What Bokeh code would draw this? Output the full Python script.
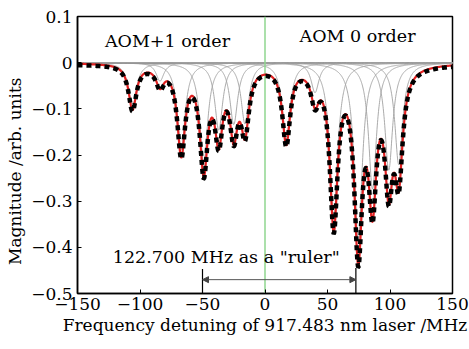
import numpy as np
from bokeh.plotting import figure
from bokeh.models import (Range1d, FixedTicker, CustomJSTickFormatter, Label, Arrow,
                          NormalHead)
from bokeh.embed import file_html
from bokeh.resources import INLINE

# Lorentzian components (MHz, depth, HWHM)
centers = [-106.0, -84.0, -67.0, -49.0, -37.0, -25.0, -16.0,
           17.0, 40.0, 55.0, 74.6, 86.0, 99.0, 107.0]
depths = [0.097, 0.040, 0.188, 0.219, 0.146, 0.134, 0.133,
          0.166, 0.065, 0.339, 0.389, 0.274, 0.233, 0.221]
hwhm = 3.8
baseline = -0.003

x_ticks = [-150, -100, -50, 0, 50, 100, 150]
y_ticks = [0.1, 0.0, -0.1, -0.2, -0.3, -0.4, -0.5]

ruler_x = [-50.0, 72.7]
ruler_top = [-0.447, -0.445]
ruler_arrow_y = -0.47

FONT = "DejaVu Serif"

xs = np.linspace(-150, 150, 1501)
comps = [-d * hwhm**2 / ((xs - c)**2 + hwhm**2) for c, d in zip(centers, depths)]
fit = np.sum(comps, axis=0)
data = fit + baseline

p = figure(width=469, height=349, output_backend="svg", toolbar_location=None,
           x_range=Range1d(-150, 150), y_range=Range1d(-0.5, 0.1),
           min_border_left=77, min_border_right=17, min_border_top=16, min_border_bottom=56)
p.grid.visible = False
p.outline_line_color = "black"
p.outline_line_width = 1.5
p.background_fill_color = "white"

for comp in comps:
    p.line(xs, comp, line_color="#a0a0a0", line_width=0.9)

p.line([0, 0], [-0.5, 0.1], line_color="#8fd68f", line_width=1.5)

p.line(xs, fit, line_color="#e02020", line_width=2.2)
p.line(xs, data, line_color="black", line_width=4.5, line_dash="5 4")

p.segment(x0=ruler_x, x1=ruler_x, y0=[-0.5, -0.5], y1=ruler_top,
          line_color="black", line_width=1.2)
p.add_layout(Arrow(start=NormalHead(size=6, fill_color="#444", line_color="#444"),
                   end=NormalHead(size=6, fill_color="#444", line_color="#444"),
                   x_start=ruler_x[0], x_end=ruler_x[1],
                   y_start=ruler_arrow_y, y_end=ruler_arrow_y,
                   line_color="#555", line_width=1))

for txt, x, y in [("AOM+1 order", -78, 0.047), ("AOM 0 order", 74, 0.058),
                  ('122.700 MHz as a "ruler"', -31, -0.42)]:
    p.add_layout(Label(x=x, y=y, text=txt, text_font=FONT, text_font_size="17.5px",
                       text_align="center", text_baseline="middle", text_color="black"))

for ax in (p.xaxis[0], p.yaxis[0]):
    ax.axis_line_width = 1.5
    ax.major_tick_in = 4
    ax.major_tick_out = 0
    ax.minor_tick_line_color = None
    ax.major_label_text_font = FONT
    ax.major_label_text_font_size = "17px"
    ax.major_label_text_color = "black"
    ax.axis_label_text_font = FONT
    ax.axis_label_text_font_style = "normal"
    ax.axis_label_text_color = "black"

p.xaxis.axis_label_text_font_size = "17px"
p.yaxis.axis_label_text_font_size = "17px"
p.xaxis.ticker = FixedTicker(ticks=x_ticks)
p.yaxis.ticker = FixedTicker(ticks=y_ticks)
p.xaxis.formatter = CustomJSTickFormatter(code="""
return (tick < 0 ? "\\u2212" : "") + Math.abs(tick).toFixed(0);""")
p.yaxis.formatter = CustomJSTickFormatter(code="""
if (Math.abs(tick) < 1e-9) return "0";
return (tick < 0 ? "\\u2212" : "") + Math.abs(tick).toFixed(1);""")
p.xaxis.major_label_standoff = 4
p.yaxis.major_label_standoff = 5
p.xaxis.axis_label = "Frequency detuning of 917.483 nm laser /MHz"
p.yaxis.axis_label = "Magnitude /arb. units" + "\u00a0" * 6
p.xaxis.axis_label_standoff = 2
p.yaxis.axis_label_standoff = 3

open("out.html", "w").write(file_html(p, INLINE))
